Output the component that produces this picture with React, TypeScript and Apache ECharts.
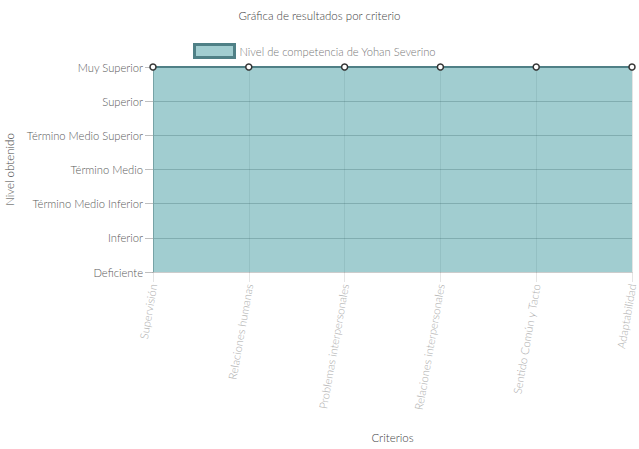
import React, { useEffect, useRef } from "react";
import * as echarts from "echarts";

const categories = [
  "Supervisión",
  "Relaciones humanas",
  "Problemas interpersonales",
  "Relaciones interpersonales",
  "Sentido Común y Tacto",
  "Adaptabilidad",
];
const levelLabels = [
  "Deficiente",
  "Inferior",
  "Término Medio Inferior",
  "Término Medio",
  "Término Medio Superior",
  "Superior",
  "Muy Superior",
];
const values = [6, 6, 6, 6, 6, 6];
const seriesName = "Nivel de competencia de Yohan Severino";

const FONT = "Lato, 'Open Sans', sans-serif";

export default function App() {
  const ref = useRef<HTMLDivElement>(null);
  useEffect(() => {
    if (!ref.current) return;
    const chart = echarts.init(ref.current, null, { renderer: "svg" });
    chart.setOption({
      animation: false,
      textStyle: { fontFamily: FONT },
      title: {
        text: "Gráfica de resultados por criterio",
        left: "center",
        top: 4,
        textStyle: { fontSize: 11.5, fontWeight: 300, color: "#444", fontFamily: FONT },
      },
      legend: {
        data: [seriesName],
        left: 188,
        top: 38,
        itemWidth: 40,
        itemHeight: 13,
        icon: "rect",
        itemGap: 6,
        textStyle: { fontSize: 11.2, color: "#777", fontFamily: FONT, fontWeight: 300 },
        itemStyle: { color: "#a1cdd0", borderColor: "#4f8086", borderWidth: 3 },
      },
      grid: { left: 153, right: 7, top: 67, bottom: 177, containLabel: false, outerBoundsMode: "none" },
      xAxis: {
        type: "category",
        data: categories,
        boundaryGap: false,
        name: "Criterios",
        nameLocation: "middle",
        nameGap: 159,
        nameTextStyle: { fontSize: 11.5, color: "#444", fontFamily: FONT, fontWeight: 300 },
        axisLine: { show: true, lineStyle: { color: "#ccc", width: 1 } },
        axisTick: { show: true, length: 10, alignWithLabel: true, lineStyle: { color: "rgba(0,0,0,0.1)" } },
        axisLabel: {
          rotate: 80,
          margin: 12,
          fontSize: 11.2,
          color: "#aaa",
          fontFamily: FONT,
          fontWeight: 300,
          interval: 0,
        },
        splitLine: { show: true, lineStyle: { color: "rgba(0,0,0,0.1)", width: 1 } },
      },
      yAxis: {
        type: "value",
        min: 0,
        max: 6,
        interval: 1,
        name: "Nivel obtenido",
        nameLocation: "middle",
        nameGap: 137,
        nameRotate: 90,
        nameTextStyle: { fontSize: 11.5, color: "#444", fontFamily: FONT, fontWeight: 300 },
        axisLine: { show: true, lineStyle: { color: "#aaa", width: 1 } },
        axisTick: { show: true, length: 8, lineStyle: { color: "rgba(0,0,0,0.25)" } },
        axisLabel: {
          margin: 10,
          fontSize: 11.2,
          color: "#5a5a5a",
          fontFamily: FONT,
          fontWeight: 300,
          formatter: (v: number) => levelLabels[v] ?? "",
        },
        splitLine: { show: true, lineStyle: { color: "rgba(0,0,0,0.25)", width: 1 } },
      },
      series: [
        {
          name: seriesName,
          type: "line",
          data: values,
          symbol: "circle",
          symbolSize: 6,
          showSymbol: true,
          lineStyle: { color: "#4f8086", width: 2 },
          itemStyle: { color: "#fff", borderColor: "#333", borderWidth: 1.5 },
          areaStyle: { color: "rgba(67,155,161,0.5)", opacity: 1 },
        },
      ],
    });
    return () => chart.dispose();
  }, []);
  return <div ref={ref} style={{ width: 639, height: 449 }} />;
}

const _style = document.createElement("style");
_style.textContent = "body{margin:0}";
document.head.appendChild(_style);
